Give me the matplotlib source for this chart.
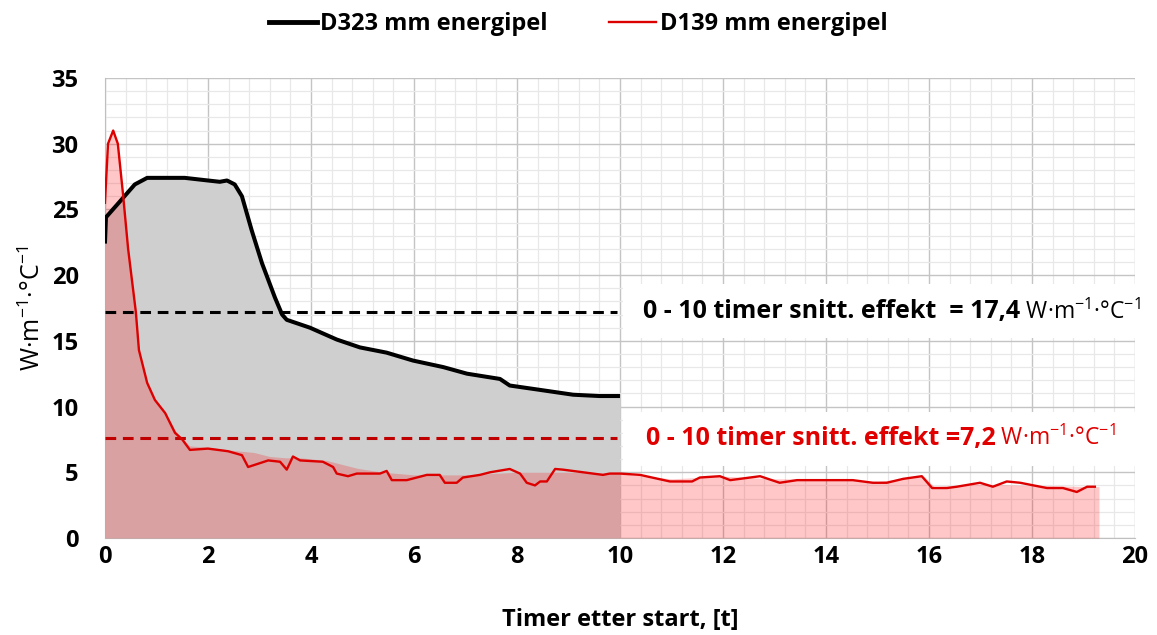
import numpy as np
import matplotlib
matplotlib.use("Agg")
import matplotlib.pyplot as plt
from matplotlib.patches import Rectangle
from matplotlib.lines import Line2D

plt.rcParams['font.family'] = ['Open Sans', 'DejaVu Sans']
plt.rcParams['mathtext.fontset'] = 'custom'
plt.rcParams['mathtext.rm'] = 'Open Sans'
plt.rcParams['mathtext.bf'] = 'Open Sans:bold'
plt.rcParams['mathtext.it'] = 'Open Sans:italic'

# D323 mm energipel (svart)
d323_x = [0, 0.02, 0.29, 0.58, 0.82, 1.55, 2.0, 2.23, 2.37, 2.52, 2.66, 2.85, 3.05, 3.3,
          3.44, 3.53, 3.98, 4.5, 4.95, 5.47, 5.98, 6.57, 7.03, 7.67, 7.86, 8.39, 9.09, 9.6, 10.0]
d323_y = [22.4, 24.4, 25.6, 26.9, 27.4, 27.4, 27.2, 27.1, 27.2, 26.9, 26.0, 23.4, 20.9, 18.3,
          17.0, 16.6, 16.0, 15.1, 14.5, 14.1, 13.5, 13.0, 12.5, 12.1, 11.6, 11.3, 10.9, 10.8, 10.8]

# D139 mm energipel (rød)
d139_x = [0, 0.06, 0.16, 0.25, 0.35, 0.45, 0.6, 0.66, 0.82, 0.97, 1.17, 1.36, 1.5, 1.65,
          2.0, 2.39, 2.66, 2.78, 3.17, 3.4, 3.53, 3.65, 3.79, 4.23, 4.43, 4.5, 4.72, 4.89,
          5.34, 5.47, 5.57, 5.86, 6.25, 6.5, 6.6, 6.83, 6.95, 7.28, 7.48, 7.86, 8.06, 8.19,
          8.35, 8.45, 8.58, 8.74, 8.89, 9.28, 9.67, 9.8, 10.0, 10.39, 10.97, 11.4, 11.55,
          11.94, 12.14, 12.72, 13.1, 13.44, 14.52, 14.91, 15.18, 15.5, 15.86, 16.06, 16.35,
          16.54, 16.99, 17.24, 17.51, 17.77, 18.29, 18.6, 18.87, 19.07, 19.22]
d139_y = [25.5, 30.0, 31.0, 30.0, 26.2, 22.0, 17.2, 14.3, 11.8, 10.5, 9.5, 8.0, 7.5, 6.7,
          6.8, 6.6, 6.3, 5.4, 5.9, 5.8, 5.2, 6.2, 5.9, 5.8, 5.4, 4.9, 4.7, 4.9,
          4.9, 5.1, 4.4, 4.4, 4.8, 4.8, 4.2, 4.2, 4.6, 4.8, 5.0, 5.25, 4.9, 4.2,
          4.0, 4.3, 4.3, 5.25, 5.2, 5.0, 4.8, 4.9, 4.9, 4.8, 4.3, 4.3, 4.6,
          4.7, 4.4, 4.7, 4.2, 4.4, 4.4, 4.2, 4.2, 4.5, 4.7, 3.8, 3.8,
          3.9, 4.2, 3.9, 4.3, 4.2, 3.8, 3.8, 3.5, 3.9, 3.9]

# flate under rød kurve (glattere enn linja)
fill_x = [0, 0.06, 0.16, 0.25, 0.35, 0.45, 0.6, 0.66, 0.82, 0.97, 1.17, 1.36, 1.5, 1.65,
          2.0, 2.4, 2.9, 3.2, 3.5, 3.8, 4.3, 4.9, 5.4, 6.0, 7.0, 8.0, 9.0, 10.0, 11.0, 12.0,
          13.0, 14.0, 15.0, 15.9, 16.1, 17.0, 18.0, 19.3]
fill_y = [25.5, 30.0, 31.0, 30.0, 26.2, 22.0, 17.2, 14.3, 11.8, 10.5, 9.5, 8.2, 7.6, 7.0,
          6.9, 6.7, 6.5, 6.2, 6.1, 6.1, 5.9, 5.3, 5.0, 4.8, 4.8, 5.0, 5.0, 4.9, 4.5, 4.7,
          4.5, 4.5, 4.3, 4.7, 3.9, 4.1, 4.0, 3.9]

snitt_d323 = 17.2
snitt_d139 = 7.6

fig = plt.figure(figsize=(11.57, 6.35), dpi=100)
ax = fig.add_axes([0.0907, 0.1528, 0.8903, 0.7244])

ax.set_xlim(0, 20)
ax.set_ylim(0, 35)
ax.set_xticks(np.arange(0, 21, 2))
ax.set_xticks(np.arange(0, 20.01, 0.4), minor=True)
ax.set_yticks(np.arange(0, 36, 5))
ax.set_yticks(np.arange(0, 36, 1), minor=True)
ax.set_axisbelow(True)
ax.grid(which='major', color='#c4c4c4', lw=1.0)
ax.grid(which='minor', color='#e8e8e8', lw=0.9)
ax.tick_params(which='both', length=0)
ax.tick_params(axis='y', pad=19, labelsize=17)
ax.tick_params(axis='x', pad=5, labelsize=17)
for lab in ax.get_xticklabels() + ax.get_yticklabels():
    lab.set_fontweight('bold')
for s in ['top', 'right']:
    ax.spines[s].set_visible(False)
for s in ['left', 'bottom']:
    ax.spines[s].set_color('#bfbfbf')

# hvite bokser bak teksten
ax.add_patch(Rectangle((10.05, 15.2), 9.95, 4.1, facecolor='white', edgecolor='none', zorder=1))
ax.add_patch(Rectangle((10.05, 5.5), 9.95, 4.1, facecolor='white', edgecolor='none', zorder=1))

ax.fill_between(d323_x, d323_y, 0, color='#cfcfcf', lw=0, zorder=2)
ax.fill_between(fill_x, fill_y, 0, color='#ff0000', alpha=0.22, lw=0, zorder=3)

ax.plot(d323_x, d323_y, color='black', lw=2.9, zorder=5, solid_capstyle='butt')
ax.plot(d139_x, d139_y, color='#dd0000', lw=1.7, zorder=6)

ax.plot([0, 9.95], [snitt_d323, snitt_d323], color='black', lw=2.2, ls=(0, (3.5, 2.2)), zorder=4)
ax.plot([0, 9.95], [snitt_d139, snitt_d139], color='#c00000', lw=2.2, ls=(0, (3.5, 2.2)), zorder=4)

enhet = r'W·m$^{\mathregular{-1}}$·°C$^{\mathregular{-1}}$'
t1 = ax.text(10.45, snitt_d323, '0 - 10 timer snitt. effekt  = 17,4', fontsize=18,
             fontweight='bold', va='center', zorder=7)
ax.annotate(' ' + enhet, xy=(1, 0.5), xycoords=t1, va='center', fontsize=16.5, zorder=7,
            annotation_clip=False)
t2 = ax.text(10.5, snitt_d139, '0 - 10 timer snitt. effekt =7,2', fontsize=18,
             fontweight='bold', va='center', color='#e00000', zorder=7)
ax.annotate(' ' + enhet, xy=(1, 0.5), xycoords=t2, va='center', fontsize=16.5, color='#e00000',
            zorder=7, annotation_clip=False)

ax.set_xlabel('Timer etter start, [t]', fontsize=17, fontweight='bold', labelpad=28)
ax.set_ylabel(enhet, fontsize=18, labelpad=4)

handles = [Line2D([], [], color='black', lw=3.5), Line2D([], [], color='#dd0000', lw=1.7)]
fig.legend(handles, ['D323 mm energipel', 'D139 mm energipel'], loc='center',
           bbox_to_anchor=(0.5, 0.962), ncol=2, frameon=False, handlelength=2.0,
           handletextpad=0.15, columnspacing=2.6, prop={'weight': 'bold', 'size': 17})

fig.savefig('out.png', dpi=100)
